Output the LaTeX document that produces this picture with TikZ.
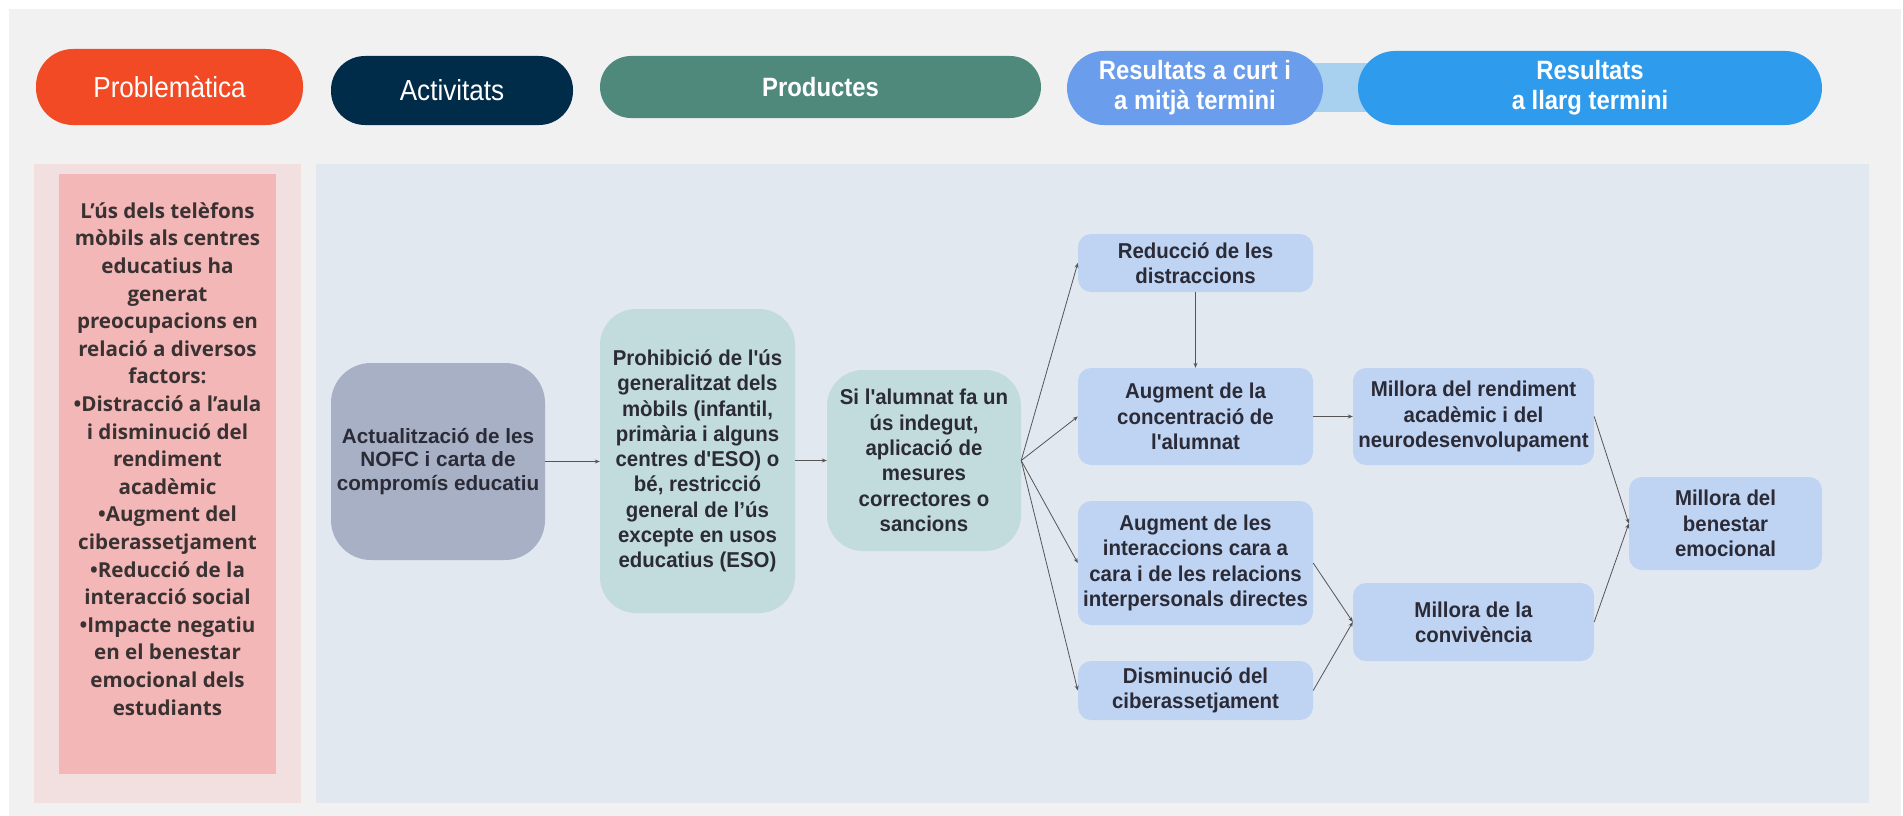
\documentclass[tikz,border=0pt]{standalone}
\usepackage{fontspec}
\usetikzlibrary{arrows.meta}
\setmainfont{Liberation Sans}
\newfontfamily\hdrfont[FakeStretch=0.9]{Liberation Sans}
\newfontfamily\ndfont[FakeStretch=0.95]{Liberation Sans}
\newfontfamily\lpfont{Open Sans}
\definecolor{bggray}{HTML}{F1F1F1}
\definecolor{panelblue}{HTML}{E2E8F0}
\definecolor{pinkout}{HTML}{F2DFDF}
\definecolor{pinkin}{HTML}{F4B7B7}
\definecolor{hprob}{HTML}{F24A25}
\definecolor{hact}{HTML}{002B49}
\definecolor{hprod}{HTML}{4E897B}
\definecolor{hrc}{HTML}{6A9DEC}
\definecolor{hbar}{HTML}{A8D1F0}
\definecolor{hrl}{HTML}{2F9BEC}
\definecolor{actfill}{HTML}{A7B0C4}
\definecolor{prodfill}{HTML}{C2DBDC}
\definecolor{resfill}{HTML}{BFD3F2}
\definecolor{txt}{HTML}{2B2B38}
\definecolor{lptxt}{HTML}{3A3232}
\definecolor{edge}{HTML}{555555}
\tikzset{
  pill/.style={rounded corners=37, text=white, align=center, inner sep=0},
  box/.style={align=center, text=txt, inner sep=0,
    font=\ndfont\bfseries\fontsize{21.5}{25.3}\selectfont},
  resbox/.style={box, fill=resfill, rounded corners=13, minimum width=235},
  prodbox/.style={box, fill=prodfill, rounded corners=36, minimum width=195},
  conn/.style={draw=edge, line width=0.8pt, -{Stealth[length=5pt,width=4pt]}}
}
\begin{document}
\begin{tikzpicture}[x=1pt,y=-1pt]
\useasboundingbox (0,0) rectangle (1903,816);
\fill[white] (0,0) rectangle (1903,816);
\fill[bggray] (9,9) rectangle (1901,816);
% header
\fill[hbar] (1287,63) rectangle (1383,112);
\node[pill, fill=hprob, minimum width=267, minimum height=76,
  font=\hdrfont\fontsize{29}{30}\selectfont] (hP) at (169.5,87) {Problemàtica};
\node[pill, fill=hact, minimum width=242, minimum height=69, rounded corners=34,
  font=\hdrfont\fontsize{29}{30}\selectfont] (hA) at (452,90.5) {Activitats};
\node[pill, fill=hprod, minimum width=441, minimum height=62, rounded corners=31,
  font=\hdrfont\bfseries\fontsize{26.5}{30}\selectfont] (hPr) at (820.5,87) {Productes};
\node[pill, fill=hrc, minimum width=256, minimum height=74,
  font=\hdrfont\bfseries\fontsize{26.5}{30}\selectfont] (hRC) at (1195,88) {Resultats a curt i\\a mitjà termini};
\node[pill, fill=hrl, minimum width=464, minimum height=74,
  font=\hdrfont\bfseries\fontsize{26.5}{30}\selectfont] (hRL) at (1590,88) {Resultats\\a llarg termini};
% panels
\fill[pinkout] (34,164) rectangle (301,803);
\fill[panelblue] (316,164) rectangle (1869,803);
\node[fill=pinkin, minimum width=217, minimum height=600, inner sep=0] (pb) at (167.5,474) {};
\node[align=center, text=lptxt, font=\lpfont\bfseries\fontsize{20.6}{27.6}\selectfont] (pt) at (167.5,459)
{L’ús dels telèfons\\mòbils als centres\\educatius ha\\generat\\preocupacions en\\relació a diversos\\factors:\\•Distracció a l’aula\\i disminució del\\rendiment\\acadèmic\\•Augment del\\ciberassetjament\\•Reducció de la\\interacció social\\•Impacte negatiu\\en el benestar\\emocional dels\\estudiants};
% nodes
\node[box, fill=actfill, rounded corners=40, minimum width=214, minimum height=197,
  font=\bfseries\fontsize{20.7}{23.5}\selectfont] (act) at (438,461.5)
  {Actualització de les\\NOFC i carta de\\compromís educatiu};
\node[prodbox, minimum height=304] (p1) at (697.5,461)
  {Prohibició de l'ús\\generalitzat dels\\mòbils (infantil,\\primària i alguns\\centres d'ESO) o\\bé, restricció\\general de l’ús\\excepte en usos\\educatius (ESO)};
\node[prodbox, minimum width=194, minimum height=181] (p2) at (924,460.5)
  {Si l'alumnat fa un\\ús indegut,\\aplicació de\\mesures\\correctores o\\sancions};
\node[resbox, minimum height=58] (r1) at (1195.5,263) {Reducció de les\\distraccions};
\node[resbox, minimum height=97] (r2) at (1195.5,416.5) {Augment de la\\concentració de\\l'alumnat};
\node[resbox, minimum height=124] (r3) at (1195.5,563) {Augment de les\\interaccions cara a\\cara i de les relacions\\interpersonals directes};
\node[resbox, minimum height=59] (r4) at (1195.5,690.5) {Disminució del\\ciberassetjament};
\node[resbox, minimum width=241, minimum height=97] (l1) at (1473.5,416.5) {Millora del rendiment\\acadèmic i del\\neurodesenvolupament};
\node[resbox, minimum width=241, minimum height=78] (l2) at (1473.5,622) {Millora de la\\convivència};
\node[resbox, minimum width=193, minimum height=93] (l3) at (1725.5,523.5) {Millora del\\benestar\\emocional};
% connectors
\draw[conn] (act.east) -- (p1.west |- act.east);
\draw[conn] (p1.east |- p2.east) -- (p2.west);
\draw[conn] (p2.east) -- (r1.west);
\draw[conn] (p2.east) -- (r2.west);
\draw[conn] (p2.east) -- (r3.west);
\draw[conn] (p2.east) -- (r4.west);
\draw[conn] (r1.south) -- (r2.north);
\draw[conn] (r2.east) -- (l1.west);
\draw[conn] (r3.east) -- (l2.west);
\draw[conn] (r4.east) -- (l2.west);
\draw[conn] (l1.east) -- (l3.west);
\draw[conn] (l2.east) -- (l3.west);
\end{tikzpicture}
\end{document}
